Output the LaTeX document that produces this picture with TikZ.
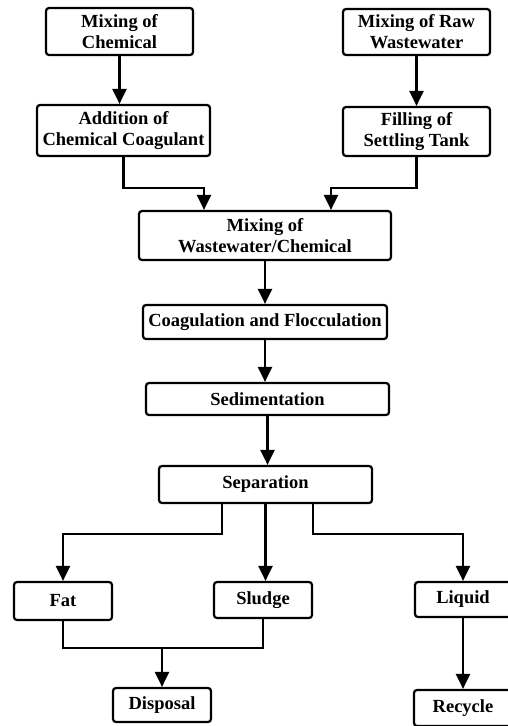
\documentclass[tikz,border=0pt]{standalone}
\usepackage{fontspec}
\setmainfont{Liberation Serif}
\usetikzlibrary{positioning,arrows.meta}

\tikzset{
  box/.style={draw, line width=2.2pt, rounded corners=3pt, align=center, inner sep=0pt,
    font=\bfseries\fontsize{18.5}{21}\selectfont},
}

\begin{document}
\begin{tikzpicture}[x=1pt, y=-1pt, >={Triangle[width=14pt,length=15pt]}, line width=2.2pt]
\useasboundingbox (0,0) rectangle (507,726);

% input nodes (top)
\node[box, minimum width=147pt, minimum height=47pt] (chem) at (119.5,31.5) {Mixing of\\Chemical};
\node[box, minimum width=147pt, minimum height=46pt] (raw) at (416.5,32) {Mixing of Raw\\Wastewater};
\node[box, minimum width=173pt, minimum height=51pt] (coag) at (123.5,130.5) {Addition of\\Chemical Coagulant};
\node[box, minimum width=147pt, minimum height=49pt] (fill) at (416.5,131.5) {Filling of\\Settling Tank};

% main column
\node[box, minimum width=252pt, minimum height=49pt] (mix) at (265,235.5) {Mixing of\\Wastewater/Chemical};
\node[box, minimum width=244pt, minimum height=34pt] (floc) at (265,322) {Coagulation and Flocculation};
\node[box, minimum width=243pt, minimum height=32pt] (sed) at (267.5,399) {Sedimentation};
\node[box, minimum width=213pt, minimum height=37pt] (sep) at (265.5,484.5) {Separation};

% outputs (bottom)
\node[box, minimum width=98pt, minimum height=38pt] (fat) at (63,601) {Fat};
\node[box, minimum width=98pt, minimum height=36pt] (sludge) at (263,600) {Sludge};
\node[box, minimum width=96pt, minimum height=35pt] (liquid) at (463,599.5) {Liquid};
\node[box, minimum width=98pt, minimum height=34pt] (disp) at (162,705) {Disposal};
\node[box, minimum width=98pt, minimum height=36pt] (recyc) at (463,708) {Recycle};

\coordinate (join) at (162,648);

% arrows
\draw[->] (chem.south) -- (chem.south |- coag.north);
\draw[->] (raw) -- (fill);
\draw[->] (coag.south) -- ++(0,31) -| ([xshift=-61pt]mix.north);
\draw[->] (fill.south) -- ++(0,31) -| ([xshift=66pt]mix.north);
\draw[->] (mix) -- (floc);
\draw[->] (floc.south) -- (floc.south |- sed.north);
\draw[->] (sed.south) -- (sed.south |- sep.north);
\draw[->] ([xshift=-43.5pt]sep.south) -- ++(0,30) -| (fat.north);
\draw[->] (sep.south) -- (sep.south |- sludge.north);
\draw[->] ([xshift=47.5pt]sep.south) -- ++(0,30) -| (liquid.north);
\draw (fat.south) |- (join) -| (sludge.south);
\draw[->] (join) -- (disp.north);
\draw[->] (liquid) -- (recyc);
\end{tikzpicture}
\end{document}
